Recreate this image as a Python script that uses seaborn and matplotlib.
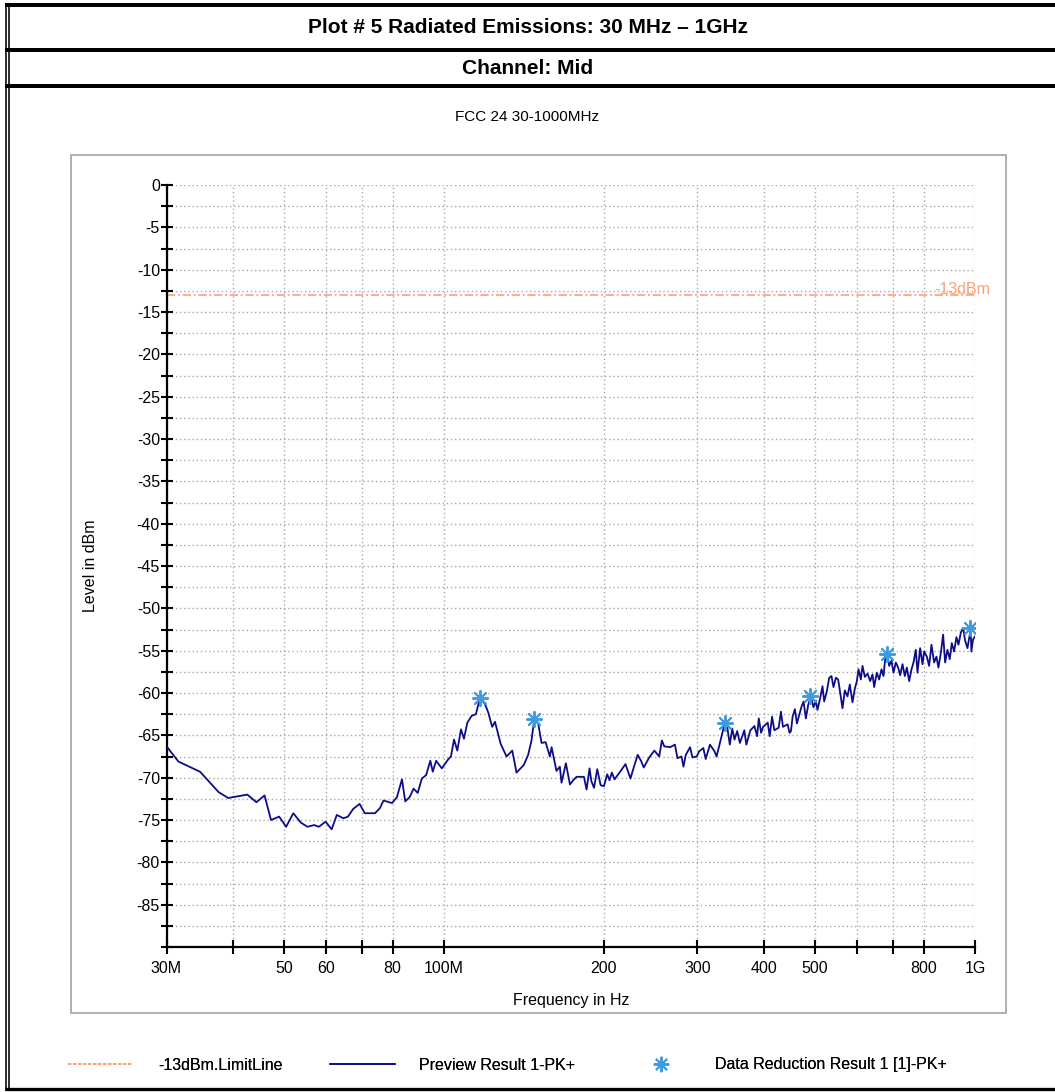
import numpy as np
import pandas as pd
import seaborn as sns
import matplotlib
matplotlib.use("Agg")
import matplotlib.pyplot as plt
from matplotlib import font_manager as fm
from matplotlib.lines import Line2D
from matplotlib.patches import Rectangle
from matplotlib.ticker import FixedLocator, FixedFormatter, NullLocator, MultipleLocator
import matplotlib.transforms as mtransforms

# ---------------- data ----------------
page_title = "Plot # 5 Radiated Emissions: 30 MHz \u2013 1GHz"
channel_title = "Channel: Mid"
chart_title = "FCC 24 30-1000MHz"

# Preview result (peak detector), frequency in MHz and level in dBm
freq_mhz = [
    30.0, 31.6, 34.7, 37.6, 39.2, 42.6, 44.3, 45.9, 47.2, 48.9,
    50.4, 52.0, 53.7, 55.3, 56.9, 58.1, 59.8, 61.4, 62.8, 64.6,
    65.9, 67.4, 69.3, 70.9, 74.1, 75.7, 76.9, 79.8, 81.5, 83.3,
    84.5, 86.1, 87.6, 89.2, 90.8, 92.5, 94.2, 95.2, 96.6, 99.0,
    101.9, 103.0, 104.4, 105.9, 107.6, 109.0, 110.6, 112.7, 114.8, 116.8,
    119.4, 121.1, 123.2, 124.7, 127.8, 131.1, 134.4, 136.9, 141.3, 144.0,
    146.1, 147.8, 150.4, 152.6, 155.3, 158.2, 159.4, 162.8, 165.2, 166.4,
    169.6, 172.6, 175.1, 177.6, 183.4, 185.5, 187.9, 189.4, 191.6, 194.3,
    197.2, 200.0, 202.9, 204.9, 207.0, 209.4, 214.0, 219.6, 224.4, 227.6,
    231.6, 234.9, 237.7, 243.5, 248.9, 254.2, 257.2, 259.8, 266.6, 272.1,
    275.2, 280.0, 282.4, 285.3, 290.6, 293.6, 299.1, 302.2, 307.8, 311.0,
    316.8, 323.2, 326.0, 329.3, 335.5, 338.9, 341.4, 345.3, 348.9, 352.4,
    356.5, 360.7, 367.7, 370.9, 377.6, 384.2, 388.7, 391.5, 395.5, 398.9,
    407.0, 410.5, 414.7, 418.8, 426.8, 431.0, 434.8, 443.6, 447.4, 450.1,
    453.4, 457.9, 461.9, 466.6, 471.3, 475.4, 480.2, 485.1, 490.7, 496.4,
    501.4, 505.0, 510.9, 516.1, 519.9, 525.9, 531.3, 536.6, 541.3, 546.9,
    552.4, 557.2, 562.9, 568.6, 575.2, 581.1, 587.8, 593.8, 599.0, 603.4,
    609.5, 613.9, 620.2, 627.4, 634.7, 641.2, 645.7, 653.2, 659.9, 666.6,
    672.4, 679.2, 684.2, 689.2, 696.2, 702.3, 709.4, 716.6, 722.9, 730.2,
    737.6, 744.1, 751.6, 759.3, 765.8, 773.6, 779.2, 788.3, 796.3, 802.1,
    811.4, 819.6, 827.9, 837.5, 846.0, 853.4, 862.1, 870.9, 878.5, 887.4,
    896.4, 904.2, 913.4, 922.7, 930.8, 940.1, 949.7, 957.9, 967.8, 977.5,
    981.5, 984.4, 991.3, 1000.0,
]
level_dbm = [
    -66.3, -68.1, -69.3, -71.7, -72.4, -72.0, -72.9, -72.1, -75.0, -74.6,
    -75.8, -74.2, -75.3, -75.8, -75.6, -75.8, -75.2, -76.1, -74.4, -74.8,
    -74.6, -73.7, -73.1, -74.2, -74.2, -73.6, -72.7, -73.0, -72.3, -70.2,
    -72.8, -72.3, -71.3, -71.8, -70.1, -69.7, -68.0, -69.3, -68.0, -68.9,
    -67.8, -67.5, -65.5, -66.8, -64.3, -65.4, -63.5, -62.7, -62.5, -60.6,
    -61.3, -62.3, -64.0, -63.4, -66.0, -67.5, -66.8, -69.4, -68.5, -67.3,
    -65.6, -63.2, -63.6, -65.9, -65.8, -67.5, -66.4, -69.2, -68.7, -70.6,
    -68.3, -70.8, -70.3, -69.9, -69.9, -71.4, -68.9, -70.4, -71.2, -69.0,
    -70.9, -71.0, -69.6, -70.3, -69.4, -70.2, -69.4, -68.4, -70.1, -68.8,
    -67.3, -68.0, -68.8, -67.6, -66.8, -67.5, -65.6, -66.3, -66.4, -66.1,
    -67.7, -67.5, -68.7, -67.3, -66.4, -67.6, -67.5, -66.9, -66.5, -67.8,
    -66.1, -66.9, -67.5, -66.4, -64.3, -63.5, -64.0, -66.1, -64.2, -65.5,
    -64.5, -65.9, -64.4, -66.1, -64.4, -63.9, -65.1, -63.0, -64.7, -64.0,
    -63.5, -65.1, -62.8, -64.4, -64.1, -62.2, -64.0, -63.7, -64.7, -64.5,
    -62.8, -61.9, -63.6, -62.6, -61.6, -61.0, -63.0, -61.4, -60.4, -61.7,
    -60.9, -62.0, -60.6, -59.2, -61.0, -59.8, -58.2, -58.0, -59.3, -58.2,
    -58.4, -60.0, -61.8, -59.7, -60.4, -59.0, -61.1, -59.5, -58.6, -57.2,
    -58.4, -56.8, -58.1, -57.7, -58.6, -57.8, -59.3, -57.6, -58.4, -57.2,
    -58.0, -55.3, -55.4, -56.8, -56.2, -57.6, -56.4, -57.0, -57.9, -56.6,
    -58.0, -57.0, -58.6, -57.2, -56.4, -54.9, -57.6, -54.7, -56.6, -55.1,
    -55.7, -56.8, -54.3, -56.4, -55.7, -57.0, -55.3, -53.1, -56.4, -54.9,
    -56.0, -54.1, -55.1, -53.4, -54.3, -52.9, -52.3, -53.8, -54.7, -53.1,
    -52.2, -55.1, -53.7, -53.3,
]

# Data reduction peaks
peak_freq_mhz = [117.0, 148.0, 338.0, 489.0, 682.0, 980.0]
peak_level_dbm = [-60.6, -63.1, -63.5, -60.4, -55.4, -52.3]

limit_dbm = -13.0
limit_label = "-13dBm"

x_tick_mhz = [30, 40, 50, 60, 70, 80, 100, 200, 300, 400, 500, 600, 700, 800, 1000]
x_tick_labels = ["30M", "", "50", "60", "", "80", "100M", "200", "300", "400",
                 "500", "", "", "800", "1G"]
y_major = list(range(0, -90, -5))
y_limits = (-90, 0)

legend_labels = ["-13dBm.LimitLine", "Preview Result 1-PK+", "Data Reduction Result 1 [1]-PK+"]

# ---------------- style ----------------
sns.set_theme(style="white")


def pick(*names):
    for n in names:
        try:
            fm.findfont(fm.FontProperties(family=n), fallback_to_default=False)
            return n
        except Exception:
            continue
    return "DejaVu Sans"


body_font = pick("Liberation Sans", "Arial", "DejaVu Sans")
narrow_font = pick("Liberation Sans Narrow", "Arial Narrow")
narrow_ok = narrow_font != "DejaVu Sans"
title_font = narrow_font if narrow_ok else body_font
title_size = 16.5 if narrow_ok else 15

plt.rcParams["font.family"] = [body_font, "DejaVu Sans"]
plt.rcParams["axes.unicode_minus"] = False
for key in ("text.color", "axes.labelcolor", "xtick.color", "ytick.color"):
    plt.rcParams[key] = "black"

NAVY = "#0D0D88"
STAR = "#3F9BE0"
LIMIT = "#FFA070"
GRID = "#A8A8A8"

W, H = 1055, 1092
fig = plt.figure(figsize=(W / 100, H / 100), dpi=100)
fig.patch.set_facecolor("white")


def fx(px):
    return px / W


def fy(py):
    return 1 - py / H


ax_l, ax_r, ax_t, ax_b = 166.5, 975, 185, 947
ax = fig.add_axes([fx(ax_l), fy(ax_b), fx(ax_r - ax_l), (ax_b - ax_t) / H])
ax.set_facecolor("white")

# ---------------- page frame ----------------
for y, lw in [(5, 4), (50, 4), (86, 4), (1089, 3.3)]:
    fig.add_artist(Line2D([fx(5), 1], [fy(y), fy(y)], transform=fig.transFigure,
                          color="black", lw=lw * 0.72, solid_capstyle="butt"))
for x in (5.8, 8.9):
    fig.add_artist(Line2D([fx(x), fx(x)], [fy(3), fy(1091)], transform=fig.transFigure,
                          color="black", lw=1.6 * 0.72, solid_capstyle="butt"))
fig.add_artist(Rectangle((fx(71), fy(1013)), fx(1006 - 71), (1013 - 155) / H,
                         transform=fig.transFigure, fill=False, edgecolor="#A9A9A9", lw=1.3))

fig.text(0.5, fy(27.5), page_title, ha="center", va="center", fontsize=title_size,
         fontweight="bold", family=[title_font, "DejaVu Sans"])
fig.text(0.5, fy(68), channel_title, ha="center", va="center", fontsize=title_size,
         fontweight="bold", family=[title_font, "DejaVu Sans"])
fig.text(0.5, fy(117), chart_title, ha="center", va="center", fontsize=11)

# ---------------- data plot ----------------
df = pd.DataFrame({"freq_hz": np.array(freq_mhz) * 1e6, "level": level_dbm})
peaks = pd.DataFrame({"freq_hz": np.array(peak_freq_mhz) * 1e6, "level": peak_level_dbm})

ax.set_xscale("log")
ax.axhline(limit_dbm, color=LIMIT, lw=1.2, linestyle=(0, (5, 1.6, 1.2, 1.6)), zorder=2)
sns.lineplot(data=df, x="freq_hz", y="level", ax=ax, color=NAVY, lw=1.3,
             estimator=None, sort=False, zorder=3)
sns.scatterplot(data=peaks, x="freq_hz", y="level", ax=ax, marker=(8, 2, 0), s=120,
                color=STAR, linewidth=1.4, zorder=4, legend=False)

ax.text(1.0185, limit_dbm + 0.15, limit_label, color=LIMIT, fontsize=11.5,
        ha="right", va="baseline",
        transform=mtransforms.blended_transform_factory(ax.transAxes, ax.transData),
        clip_on=False)

ax.set_xlim(30e6, 1e9)
ax.set_ylim(*y_limits)

ax.xaxis.set_major_locator(FixedLocator([v * 1e6 for v in x_tick_mhz]))
ax.xaxis.set_major_formatter(FixedFormatter(x_tick_labels))
ax.xaxis.set_minor_locator(NullLocator())
ax.yaxis.set_major_locator(FixedLocator(y_major))
ax.yaxis.set_minor_locator(MultipleLocator(2.5))

ax.grid(True, which="major", axis="x", color=GRID, lw=1.0, linestyle=(0, (1, 2)))
ax.grid(True, which="both", axis="y", color=GRID, lw=1.0, linestyle=(0, (1, 2)))
ax.set_axisbelow(True)

for side in ("top", "right"):
    ax.spines[side].set_visible(False)
for side in ("left", "bottom"):
    ax.spines[side].set_color("black")
    ax.spines[side].set_linewidth(1.6)

ax.tick_params(axis="y", which="both", direction="inout", length=8.5, width=1.5,
               color="black", labelsize=11.5, pad=0.5, left=True)
ax.tick_params(axis="x", which="major", direction="inout", length=10, width=1.5,
               color="black", labelsize=11.5, pad=5, bottom=True)

ax.set_xlabel("Frequency in Hz", fontsize=11.5)
ax.set_ylabel("Level in dBm", fontsize=11.5)
ax.xaxis.set_label_coords(0.5, (ax_b - 993) / (ax_b - ax_t))
ax.yaxis.set_label_coords((98 - ax_l) / (ax_r - ax_l), 0.5)

# ---------------- legend ----------------
leg_y = fy(1065)
entries = [
    (68, Line2D([], [], color=LIMIT, lw=1.2, linestyle=(0, (2, 1))), legend_labels[0], 4.05, 1.6),
    (330, Line2D([], [], color=NAVY, lw=1.3), legend_labels[1], 4.1, 1.45),
    (645, Line2D([], [], color=STAR, lw=0, marker=(8, 2, 0), markersize=11, markeredgewidth=1.3),
     legend_labels[2], 2.0, 2.4),
]
for x0, handle, label, hl, pad in entries:
    lg = fig.legend(handles=[handle], labels=[label], loc="center left",
                    bbox_to_anchor=(fx(x0), leg_y), frameon=False, fontsize=11.5,
                    borderpad=0, borderaxespad=0, handlelength=hl, handletextpad=pad)
    fig.add_artist(lg)

fig.savefig("out.png", dpi=100, facecolor="white")
